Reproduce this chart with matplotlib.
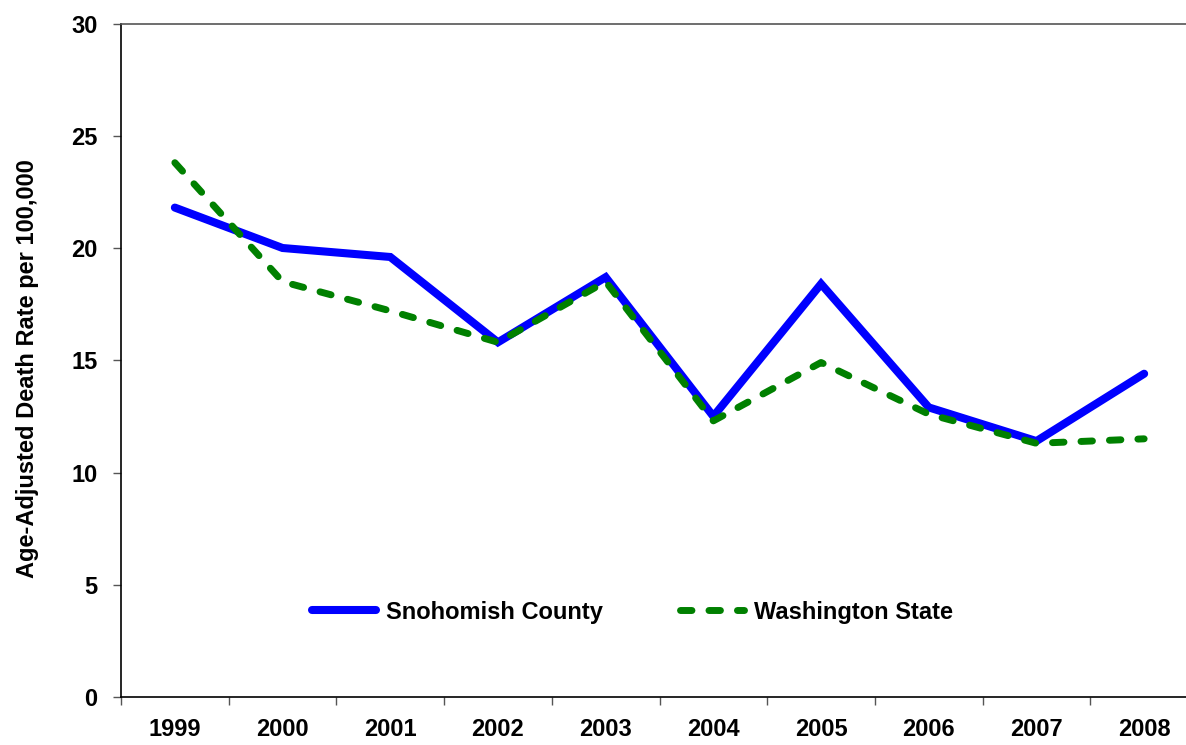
import matplotlib
matplotlib.use("Agg")
import matplotlib.pyplot as plt
import numpy as np

years = ["1999", "2000", "2001", "2002", "2003", "2004", "2005", "2006", "2007", "2008"]
snohomish = [21.8, 20.0, 19.6, 15.8, 18.7, 12.5, 18.4, 12.9, 11.4, 14.4]
washington = [23.8, 18.5, 17.2, 15.8, 18.5, 12.3, 14.9, 12.6, 11.3, 11.5]
y_ticks = [0, 5, 10, 15, 20, 25, 30]

plt.rcParams['font.family'] = ['Liberation Sans', 'DejaVu Sans']
plt.rcParams['font.weight'] = 'bold'

W, H = 1186, 745
fig = plt.figure(figsize=(W / 100, H / 100), dpi=100)
AW = 1198 - 121
AH = 697 - 23.5
ax = fig.add_axes([121 / W, 1 - 697 / H, AW / W, AH / H])

x = np.arange(len(years))
ax.plot(x, snohomish, color='#0000FF', lw=5.8, solid_capstyle='round',
        solid_joinstyle='miter', label='Snohomish County', zorder=2)
ax.plot(x, washington, color='#008000', lw=5, linestyle=(0, (1.65, 2.45)),
        dash_capstyle='round', label='Washington State', zorder=3)

ax.set_xlim(-0.5, len(years) - 0.5)
ax.set_ylim(0, 30)
ax.set_yticks(y_ticks)
ax.set_yticklabels([str(v) for v in y_ticks], fontsize=17, fontweight='bold')
ax.set_xticks(x)
ax.set_xticklabels(years, fontsize=17, fontweight='bold')
ax.set_xticks(np.arange(-0.5, len(years) + 0.5, 1), minor=True)
ax.tick_params(axis='x', which='major', length=0, pad=15)
ax.tick_params(axis='x', which='minor', length=6, color='#555555', width=1)
ax.tick_params(axis='y', which='major', length=6, color='#555555', width=1, pad=11)

ax.spines['right'].set_visible(False)
ax.spines['top'].set_color('#555555')
ax.spines['top'].set_linewidth(1.2)
ax.spines['left'].set_color('black')
ax.spines['left'].set_linewidth(1.2)
ax.spines['bottom'].set_color('black')
ax.spines['bottom'].set_linewidth(1.2)

ax.set_ylabel('Age-Adjusted Death Rate per 100,000', fontsize=17, fontweight='bold')
ax.yaxis.set_label_coords(-82 / AW, 0.5 - (368 - 360) / AH)

leg = ax.legend(loc='center left', bbox_to_anchor=(191 / AW, 1 - (612 - 23.5) / AH),
                ncol=2, frameon=False, fontsize=17, handlelength=2.7, handletextpad=0.42,
                columnspacing=3.3, borderaxespad=0, borderpad=0)
for t in leg.get_texts():
    t.set_fontweight('bold')

fig.savefig('out.png', dpi=100)
